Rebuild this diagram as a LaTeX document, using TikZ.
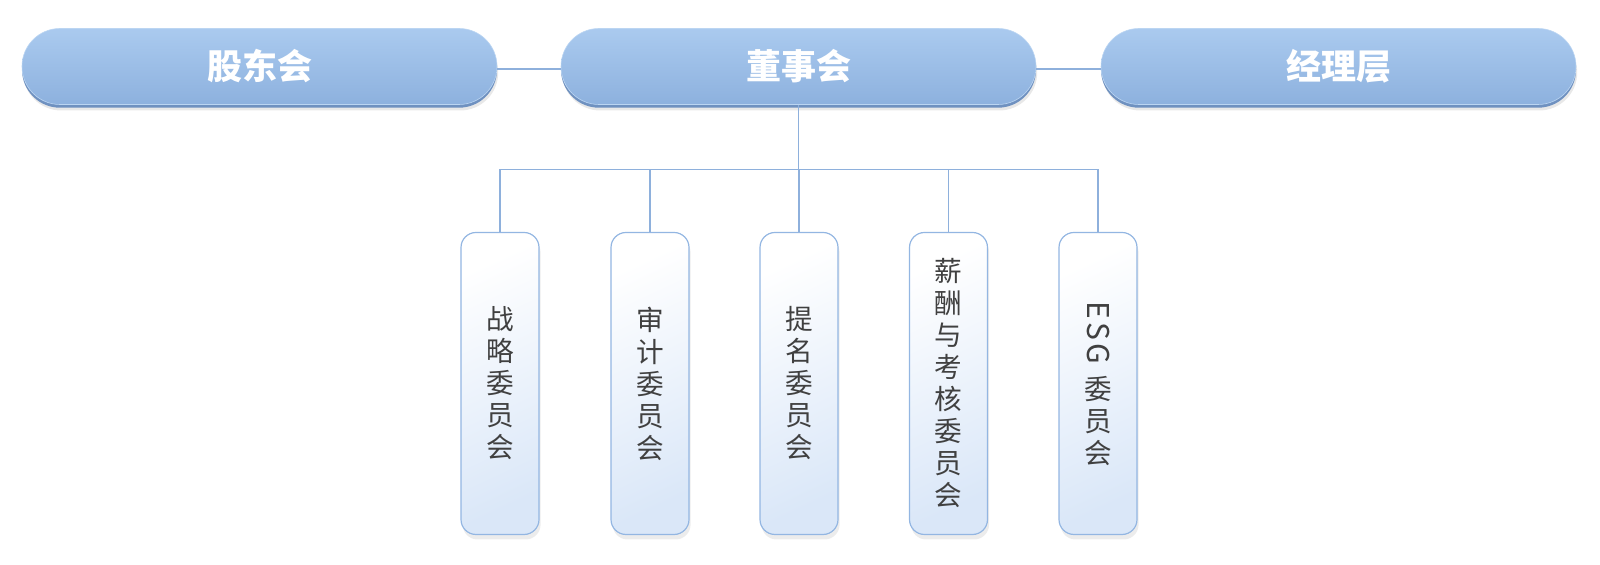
\documentclass[tikz,border=0pt]{standalone}
\usepackage{fontspec}
\newfontfamily\cjk{Noto Sans CJK SC}
\usetikzlibrary{shadows}
\definecolor{topA}{HTML}{AACAEF}
\definecolor{topB}{HTML}{8DB1DE}
\definecolor{edgeblue}{HTML}{6F91C0}
\definecolor{linec}{HTML}{8EB0DC}
\definecolor{subB}{HTML}{DAE7F8}
\definecolor{subborder}{HTML}{93B6E2}
\definecolor{txtgray}{HTML}{404040}
\tikzset{
  topbox/.style={rectangle, rounded corners=19pt, minimum width=237.5pt, minimum height=38pt,
    top color=topA, bottom color=topB, draw=topA!80!white, line width=0.3pt,
    drop shadow={opacity=.18, shadow yshift=-3pt, shadow xshift=0.6pt},
    drop shadow={fill=edgeblue, opacity=1, shadow yshift=-1.6pt, shadow xshift=0pt},
    text=white, font=\cjk\bfseries\fontsize{17.5}{20}\selectfont, inner sep=0pt},
  subbox/.style={rectangle, rounded corners=7.5pt, minimum width=39pt, minimum height=151pt,
    shading=axis, top color=white, bottom color=subB, shading angle=25,
    draw=subborder, line width=0.6pt,
    drop shadow={opacity=.15, shadow yshift=-2.5pt, shadow xshift=0.8pt},
    text=txtgray, font=\cjk\fontsize{13.8}{16}\selectfont, align=center, inner sep=0pt},
  conn/.style={draw=linec, line width=0.75pt}
}
\begin{document}
\begin{tikzpicture}[x=0.5pt,y=-0.5pt]
\useasboundingbox (0,0) rectangle (1600,565);
\node[topbox] (gd) at (259.5,66.5) {股东会};
\node[topbox] (ds) at (798.5,66.5) {董事会};
\node[topbox] (jl) at (1338.5,66.5) {经理层};
\coordinate (bus) at (798.5,169.5);
\node[subbox] (s1) at (500,383.5) {战\\略\\委\\员\\会};
\node[subbox] (s2) at (650,383.5) {审\\计\\委\\员\\会};
\node[subbox] (s3) at (799,383.5) {提\\名\\委\\员\\会};
\node[subbox] (s4) at (948.5,383.5) {薪\\酬\\与\\考\\核\\委\\员\\会};
\node[subbox] (s5) at (1098,383.5) {\rotatebox{-90}{\addfontfeatures{LetterSpace=12}\fontsize{15}{16}\selectfont ESG}\\[5pt]委\\员\\会};
\draw[conn] ([yshift=-1.2pt]gd.east) -- ([yshift=-1.2pt]ds.west);
\draw[conn] ([yshift=-1.2pt]ds.east) -- ([yshift=-1.2pt]jl.west);
\draw[conn] (ds.south) -- (bus);
\draw[conn] (bus -| s1) -- (bus -| s5);
\foreach \s in {s1,s2,s3,s4,s5} \draw[conn] (bus -| \s) -- (\s.north);
\end{tikzpicture}
\end{document}
